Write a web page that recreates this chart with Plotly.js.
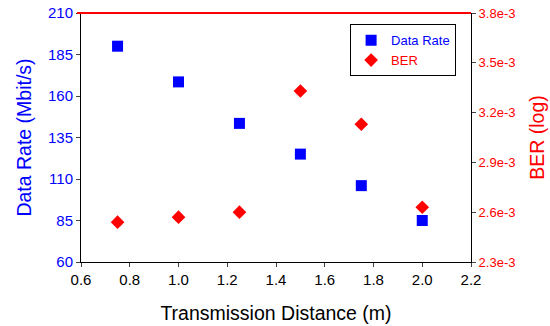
<!DOCTYPE html>
<html>
<head>
<meta charset="utf-8">
<script src="https://cdn.plot.ly/plotly-3.0.1.min.js"></script>
<style>html,body{margin:0;padding:0;background:#fff;}#chart{width:550px;height:326px;}</style>
</head>
<body>
<div id="chart"></div>
<script>
const distance = [0.75, 1.0, 1.25, 1.5, 1.75, 2.0];
const dataRate = [190, 168.5, 143.5, 125, 106, 85];
const ber = [2.54e-3, 2.57e-3, 2.60e-3, 3.33e-3, 3.13e-3, 2.63e-3];
const xTicks = [0.6, 0.8, 1.0, 1.2, 1.4, 1.6, 1.8, 2.0, 2.2];
const rateTicks = [60, 85, 110, 135, 160, 185, 210];
const berTicks = [2.3e-3, 2.6e-3, 2.9e-3, 3.2e-3, 3.5e-3, 3.8e-3];
const berTickText = ["2.3e-3", "2.6e-3", "2.9e-3", "3.2e-3", "3.5e-3", "3.8e-3"];

const font = "Arial, 'Liberation Sans', sans-serif";

const traces = [
  {x: distance, y: dataRate, type: 'scatter', mode: 'markers', name: '<span style="color:#0000ff">Data Rate</span>',
   marker: {symbol: 'square', size: 11, color: '#0000ff'}, yaxis: 'y', cliponaxis: false},
  {x: distance, y: ber, type: 'scatter', mode: 'markers', name: '<span style="color:#ff0000">BER</span>',
   marker: {symbol: 'diamond', size: 10.5, color: '#ff0000'}, yaxis: 'y2', cliponaxis: false}
];

const layout = {
  width: 550, height: 326,
  margin: {l: 81, r: 79, t: 13, b: 64},
  paper_bgcolor: '#fff', plot_bgcolor: '#fff',
  font: {family: font, color: '#000'},
  showlegend: true,
  legend: {x: 0.69, y: 0.955, xanchor: 'left', yanchor: 'top', bordercolor: '#000', borderwidth: 1,
           bgcolor: '#fff', font: {size: 13, family: font}, itemwidth: 30, tracegroupgap: 0},
  xaxis: {range: [0.6, 2.2], tickvals: xTicks, tickformat: '.1f', ticks: 'outside', ticklen: 4,
          showline: true, linecolor: '#000', linewidth: 1, showgrid: false, zeroline: false,
          tickfont: {size: 15, color: '#000'},
          title: {text: 'Transmission Distance (m)', font: {size: 19.5, color: '#000'}, standoff: 19}},
  yaxis: {range: [60, 210], tickvals: rateTicks, ticks: 'outside', ticklen: 4,
          showline: true, linecolor: '#000', linewidth: 1, showgrid: false, zeroline: false,
          tickfont: {size: 15, color: '#0000ff'},
          title: {text: 'Data Rate (Mbit/s)', font: {size: 19.5, color: '#0000ff'}, standoff: 11}},
  yaxis2: {range: [2.3e-3, 3.8e-3], tickvals: berTicks, ticktext: berTickText, overlaying: 'y', side: 'right',
           ticks: 'outside', ticklen: 4, showline: true, linecolor: '#000', linewidth: 1,
           showgrid: false, zeroline: false, tickfont: {size: 13, color: '#ff0000'},
           title: {text: 'BER (log)', font: {size: 19.5, color: '#ff0000'}, standoff: 15}},
  shapes: [{type: 'line', xref: 'paper', yref: 'paper', x0: -0.01, x1: 1, y0: 1, y1: 1,
            line: {color: '#ff0000', width: 2}}]
};

Plotly.newPlot('chart', traces, layout, {displayModeBar: false, staticPlot: true});
</script>
</body>
</html>
